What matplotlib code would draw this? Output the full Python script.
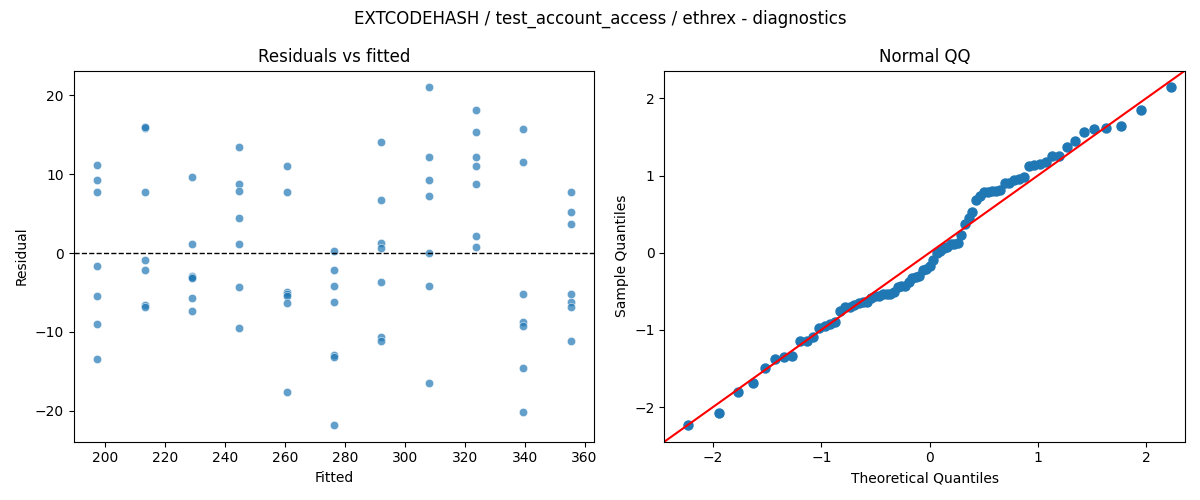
import matplotlib
matplotlib.use("Agg")
import matplotlib.pyplot as plt
import seaborn as sns
import numpy as np
from statistics import NormalDist

title = "EXTCODEHASH / test_account_access / ethrex - diagnostics"

fitted_levels = [197.3, 213.1, 228.9, 244.7, 260.5, 276.3, 292.1, 307.9, 323.7, 339.5, 355.3]

res_g1 = [11.2, 9.3, 7.7, -1.7, -5.5, -9.0, -13.4]
res_g2 = [15.8, 16.0, 7.8, -0.9, -2.2, -6.6, -6.9]
res_g3 = [9.6, 1.1, -2.9, -3.1, -3.2, -5.7, -7.4]
res_g4 = [13.4, 8.8, 7.9, 4.4, 1.1, -4.3, -9.5]
res_g5 = [11.1, 7.7, -4.9, -5.2, -5.5, -6.4, -17.6]
res_g6 = [0.2, -2.1, -4.2, -6.2, -13.0, -13.2, -21.8]
res_g7 = [14.1, 6.7, 1.3, 0.6, -3.7, -10.7, -11.1]
res_g8 = [21.0, 12.2, 9.2, 7.2, 0.0, -4.2, -16.5]
res_g9 = [18.1, 15.3, 12.2, 11.0, 8.8, 2.2, 0.8]
res_g10 = [15.7, 11.5, -5.2, -8.7, -9.3, -14.6, -20.2]
res_g11 = [7.8, 5.2, 3.7, -5.2, -6.2, -6.8, -11.1]

groups = [res_g1, res_g2, res_g3, res_g4, res_g5, res_g6, res_g7, res_g8, res_g9, res_g10, res_g11]

fitted = np.concatenate([[f] * len(g) for f, g in zip(fitted_levels, groups)])
resid = np.concatenate(groups)

# QQ data (standardized residuals vs normal quantiles)
std_res = (resid - resid.mean()) / resid.std(ddof=0)
sample_q = np.sort(std_res)
n = len(sample_q)
nd = NormalDist()
theo_q = np.array([nd.inv_cdf(i / (n + 1)) for i in range(1, n + 1)])

fig, (ax1, ax2) = plt.subplots(1, 2, figsize=(12, 5), dpi=100)

sns.scatterplot(x=fitted, y=resid, ax=ax1, alpha=0.7)
ax1.axhline(0, color="black", linestyle="--", linewidth=1)
ax1.set_title("Residuals vs fitted")
ax1.set_xlabel("Fitted")
ax1.set_ylabel("Residual")

ax2.plot(theo_q, sample_q, "o", color="C0", markersize=6.5)
lims = [-2.45, 2.36]
ax2.plot(lims, lims, "r-")
ax2.set_xlim(lims)
ax2.set_ylim(lims)
ax2.set_title("Normal QQ")
ax2.set_xlabel("Theoretical Quantiles")
ax2.set_ylabel("Sample Quantiles")

fig.suptitle(title)
fig.tight_layout()
fig.savefig("out.png")
